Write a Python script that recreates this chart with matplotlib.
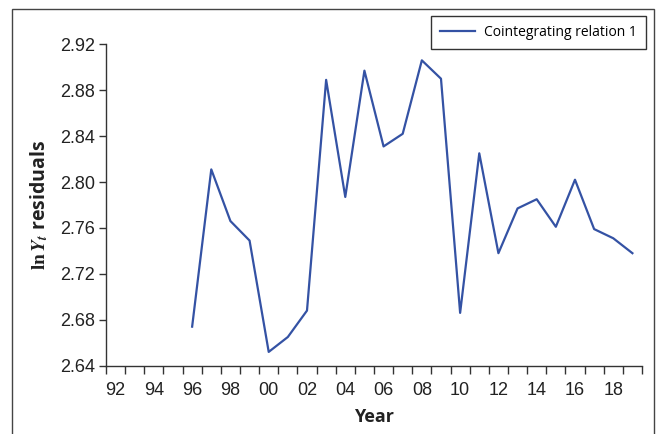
import matplotlib
matplotlib.use("Agg")
import matplotlib.pyplot as plt
from matplotlib.patches import Rectangle
from matplotlib.ticker import FixedLocator

years = list(range(1992, 2020))
res_years = list(range(1996, 2020))
residuals = [2.674, 2.811, 2.766, 2.749, 2.652, 2.665, 2.688, 2.889, 2.787,
             2.897, 2.831, 2.842, 2.906, 2.890, 2.686, 2.825, 2.738, 2.777,
             2.785, 2.761, 2.802, 2.759, 2.751, 2.738]
y_ticks = [2.64, 2.68, 2.72, 2.76, 2.80, 2.84, 2.88, 2.92]

plt.rcParams['mathtext.fontset'] = 'stix'
plt.rcParams['font.family'] = ['Liberation Sans', 'DejaVu Sans']

fig = plt.figure(figsize=(6.6, 4.34), dpi=100)
ax = fig.add_axes([0.1606, 0.1574, 0.8121, 0.7406])

# categorical x axis: one slot per year
xpos = [years.index(y) for y in res_years]
ax.plot(xpos, residuals, color='#3452a4', lw=1.6,
        label='Cointegrating relation 1')

ax.set_xlim(-0.5, len(years) - 0.5)
ax.set_ylim(2.64, 2.92)

ax.set_xticks(range(0, len(years), 2))
ax.set_xticklabels(['%02d' % (y % 100) for y in years[::2]])
ax.xaxis.set_minor_locator(FixedLocator([i - 0.5 for i in range(len(years) + 1)]))
ax.tick_params(axis='x', which='major', length=0, pad=12, labelsize=13,
               labelcolor='#222222')
ax.tick_params(axis='x', which='minor', length=6, width=1, color='#333333',
               direction='out')

ax.set_yticks(y_ticks)
ax.set_yticklabels(['%.2f' % v for v in y_ticks])
ax.tick_params(axis='y', length=5, width=1, color='#333333', labelsize=13,
               labelcolor='#222222', pad=3)

for s in ['top', 'right']:
    ax.spines[s].set_visible(False)
for s in ['left', 'bottom']:
    ax.spines[s].set_color('#333333')
    ax.spines[s].set_linewidth(1)

ax.set_xlabel('Year', fontsize=13, fontweight='bold', family='Open Sans',
              color='#222222', labelpad=6)
ax.set_ylabel(r'$\mathbf{ln}\,\mathbfit{Y_t}$ residuals', fontsize=14,
              fontweight='bold', family='Open Sans', color='#222222',
              labelpad=7)

leg = ax.legend(loc='upper right', bbox_to_anchor=(1.021, 1.109), frameon=True,
                fancybox=False, edgecolor='#333333', framealpha=1,
                prop={'family': 'Open Sans', 'size': 10}, handlelength=2.5,
                borderpad=0.65, handletextpad=0.7)
leg.get_frame().set_linewidth(1)

# outer frame around the figure
fig.patches.append(Rectangle((12 / 660, -0.05), 642 / 660, 1.05 - 9 / 434,
                             transform=fig.transFigure, fill=False,
                             edgecolor='#444444', lw=1))

fig.savefig('out.png', dpi=100)
